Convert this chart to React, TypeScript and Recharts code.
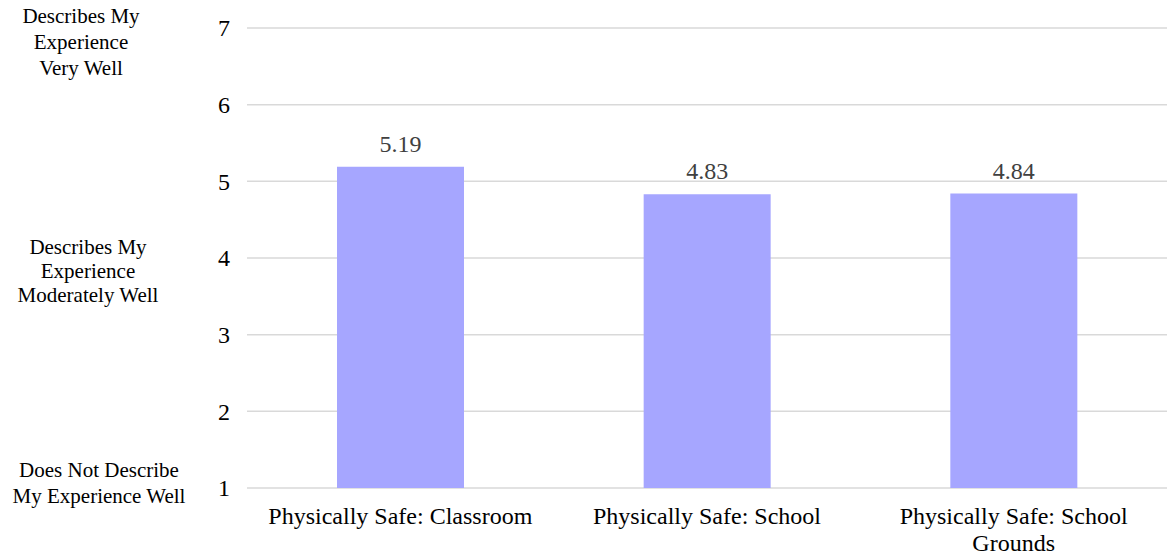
import React from 'react';
import { BarChart, Bar, XAxis, YAxis, CartesianGrid, LabelList } from 'recharts';

const categories = ['Physically Safe: Classroom', 'Physically Safe: School', 'Physically Safe: School Grounds'];
const scores = [5.19, 4.83, 4.84];
const yTicks = [1, 2, 3, 4, 5, 6, 7];

// scale anchors shown beside the numbers
const anchorValues = [7, 4, 1];
const anchorLines = [
  ['Describes My', 'Experience', 'Very Well'],
  ['Describes My', 'Experience', 'Moderately Well'],
  ['Does Not Describe', 'My Experience Well'],
];

const FONT = 'Liberation Serif';
const BAR_COLOR = '#A6A6FF';

const data = categories.map((name, i) => ({ name, value: scores[i] }));

// where each anchor block sits relative to its gridline
const anchorLayout: Record<number, { cx: number; dy: number; step: number }> = {
  7: { cx: 81, dy: -5, step: 26 },
  4: { cx: 88, dy: -4, step: 24 },
  1: { cx: 99, dy: -11, step: 26 },
};

// greedy word wrap by character count
const wrap = (s: string, max: number) => {
  const out: string[] = [];
  let cur = '';
  s.split(' ').forEach((w) => {
    const next = cur ? cur + ' ' + w : w;
    if (next.length > max && cur) {
      out.push(cur);
      cur = w;
    } else cur = next;
  });
  if (cur) out.push(cur);
  return out;
};

const YTick = (props: any) => {
  const { y, payload } = props;
  const v = payload.value as number;
  const idx = anchorValues.indexOf(v);
  const layout = anchorLayout[v];
  return (
    <g>
      <text x={230} y={y} dy="0.35em" textAnchor="end" fontFamily={FONT} fontSize={24} fill="#000">
        {v}
      </text>
      {idx >= 0 && layout && (
        <text fontFamily={FONT} fontSize={21} fill="#000" textAnchor="middle">
          {anchorLines[idx].map((line, i) => (
            <tspan key={i} x={layout.cx} y={y + layout.dy + i * layout.step}>
              {line}
            </tspan>
          ))}
        </text>
      )}
    </g>
  );
};

const XTick = (props: any) => {
  const { x, y, payload } = props;
  const lines = wrap(String(payload.value), 28);
  return (
    <text fontFamily={FONT} fontSize={24} fill="#000" textAnchor="middle">
      {lines.map((line, i) => (
        <tspan key={i} x={x} y={y + 36 + i * 27}>
          {line}
        </tspan>
      ))}
    </text>
  );
};

export default function App() {
  return (
    <div style={{ position: 'absolute', left: 0, top: 0, width: 1171, height: 560, background: '#fff' }}>
      <BarChart
        width={1171}
        height={560}
        data={data}
        margin={{ top: 28, right: 4, bottom: 0, left: 0 }}
      >
        <CartesianGrid vertical={false} stroke="#D9D9D9" strokeWidth={1.5} />
        <XAxis
          dataKey="name"
          axisLine={false}
          tickLine={false}
          tickSize={0}
          tickMargin={0}
          height={72}
          interval={0}
          tick={XTick}
        />
        <YAxis
          type="number"
          domain={[1, 7]}
          ticks={yTicks}
          axisLine={false}
          tickLine={false}
          width={247}
          interval={0}
          tick={YTick}
        />
        <Bar dataKey="value" fill={BAR_COLOR} barSize={127} isAnimationActive={false}>
          <LabelList
            dataKey="value"
            position="top"
            offset={15}
            fill="#404040"
            fontFamily={FONT}
            fontSize={24}
            formatter={(v: any) => Number(v).toFixed(2)}
          />
        </Bar>
      </BarChart>
    </div>
  );
}
